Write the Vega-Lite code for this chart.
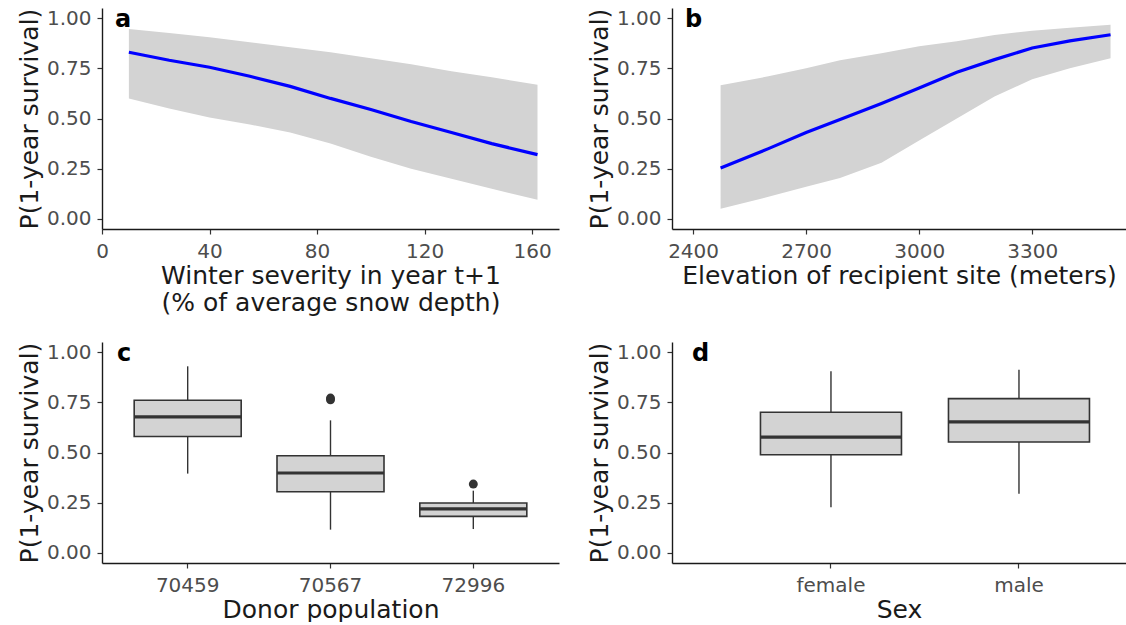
{
  "$schema": "https://vega.github.io/schema/vega-lite/v6.json",
  "padding": {"left": 17, "top": 8, "right": 0, "bottom": 0},
  "background": "white",
  "spacing": 27,
  "config": {
    "font": "DejaVu Sans",
    "view": {"stroke": null},
    "axis": {
      "grid": false,
      "domainColor": "#1a1a1a",
      "domainWidth": 1.4,
      "tickColor": "#333333",
      "tickWidth": 1.2,
      "tickSize": 5,
      "labelColor": "#4D4D4D",
      "labelFont": "DejaVu Sans",
      "labelFontSize": 20,
      "labelFlush": false,
      "labelOverlap": false,
      "titleFont": "DejaVu Sans",
      "titleFontSize": 25,
      "titleFontWeight": "normal",
      "titleColor": "#1a1a1a"
    },
    "axisX": {"labelPadding": 7, "titlePadding": 2},
    "axisY": {"labelPadding": 6, "titlePadding": 4},
    "title": {"fontSize": 24, "fontWeight": "bold", "color": "#000000", "anchor": "start", "frame": "group", "baseline": "alphabetic", "offset": -24}
  },
  "datasets": {
    "a": [
      {"severity": 10, "fit": 0.83, "lo": 0.60, "hi": 0.945},
      {"severity": 25, "fit": 0.79, "lo": 0.55, "hi": 0.925},
      {"severity": 40, "fit": 0.755, "lo": 0.505, "hi": 0.905},
      {"severity": 55, "fit": 0.71, "lo": 0.47, "hi": 0.88},
      {"severity": 70, "fit": 0.66, "lo": 0.43, "hi": 0.855},
      {"severity": 85, "fit": 0.60, "lo": 0.375, "hi": 0.83},
      {"severity": 100, "fit": 0.545, "lo": 0.31, "hi": 0.80},
      {"severity": 115, "fit": 0.485, "lo": 0.25, "hi": 0.77},
      {"severity": 130, "fit": 0.43, "lo": 0.20, "hi": 0.735},
      {"severity": 145, "fit": 0.375, "lo": 0.15, "hi": 0.705},
      {"severity": 162, "fit": 0.32, "lo": 0.095, "hi": 0.668}
    ],
    "b": [
      {"elev": 2473, "fit": 0.254, "lo": 0.051, "hi": 0.665},
      {"elev": 2600, "fit": 0.35, "lo": 0.11, "hi": 0.71},
      {"elev": 2700, "fit": 0.43, "lo": 0.16, "hi": 0.75},
      {"elev": 2790, "fit": 0.495, "lo": 0.204, "hi": 0.79},
      {"elev": 2900, "fit": 0.575, "lo": 0.28, "hi": 0.825},
      {"elev": 3000, "fit": 0.652, "lo": 0.39, "hi": 0.859},
      {"elev": 3100, "fit": 0.73, "lo": 0.50, "hi": 0.885},
      {"elev": 3200, "fit": 0.793, "lo": 0.61, "hi": 0.915},
      {"elev": 3300, "fit": 0.851, "lo": 0.695, "hi": 0.937},
      {"elev": 3400, "fit": 0.886, "lo": 0.75, "hi": 0.952},
      {"elev": 3508, "fit": 0.917, "lo": 0.80, "hi": 0.967}
    ],
    "c": [
      {"pop": "70459", "lower": 0.395, "q1": 0.58, "median": 0.677, "q3": 0.76, "upper": 0.929},
      {"pop": "70567", "lower": 0.116, "q1": 0.305, "median": 0.398, "q3": 0.484, "upper": 0.66},
      {"pop": "72996", "lower": 0.119, "q1": 0.182, "median": 0.219, "q3": 0.249, "upper": 0.31}
    ],
    "cout": [
      {"pop": "70567", "value": 0.771},
      {"pop": "70567", "value": 0.762},
      {"pop": "72996", "value": 0.343}
    ],
    "d": [
      {"sex": "female", "lower": 0.227, "q1": 0.489, "median": 0.577, "q3": 0.70, "upper": 0.904},
      {"sex": "male", "lower": 0.295, "q1": 0.552, "median": 0.652, "q3": 0.768, "upper": 0.912}
    ]
  },
  "vconcat": [
    {
      "hconcat": [
        {
          "width": 457, "height": 221,
          "title": {"text": "a", "dx": 13},
          "layer": [
            {
              "data": {"name": "a"},
              "mark": {"type": "area", "color": "#D3D3D3", "opacity": 1},
              "encoding": {
                "x": {"field": "severity", "type": "quantitative", "scale": {"domain": [0, 170], "nice": false, "zero": false},
                      "axis": {"values": [0, 40, 80, 120, 160], "title": ["Winter severity in year t+1", "(% of average snow depth)"], "titleLineHeight": 27}},
                "y": {"field": "lo", "type": "quantitative", "scale": {"domain": [-0.05, 1.05], "nice": false, "zero": false},
                      "axis": {"values": [0, 0.25, 0.5, 0.75, 1], "format": ".2f", "title": "P(1-year survival)"}},
                "y2": {"field": "hi"}
              }
            },
            {
              "data": {"name": "a"},
              "mark": {"type": "line", "color": "#0000FF", "strokeWidth": 3.2},
              "encoding": {
                "x": {"field": "severity", "type": "quantitative"},
                "y": {"field": "fit", "type": "quantitative"}
              }
            }
          ]
        },
        {
          "width": 454, "height": 221,
          "title": {"text": "b", "dx": 13},
          "layer": [
            {
              "data": {"name": "b"},
              "mark": {"type": "area", "color": "#D3D3D3", "opacity": 1},
              "encoding": {
                "x": {"field": "elev", "type": "quantitative", "scale": {"domain": [2344, 3549], "nice": false, "zero": false},
                      "axis": {"values": [2400, 2700, 3000, 3300], "format": "d", "title": "Elevation of recipient site (meters)"}},
                "y": {"field": "lo", "type": "quantitative", "scale": {"domain": [-0.05, 1.05], "nice": false, "zero": false},
                      "axis": {"values": [0, 0.25, 0.5, 0.75, 1], "format": ".2f", "title": "P(1-year survival)"}},
                "y2": {"field": "hi"}
              }
            },
            {
              "data": {"name": "b"},
              "mark": {"type": "line", "color": "#0000FF", "strokeWidth": 3.2},
              "encoding": {
                "x": {"field": "elev", "type": "quantitative"},
                "y": {"field": "fit", "type": "quantitative"}
              }
            }
          ]
        }
      ],
      "spacing": 113,
      "bounds": "flush"
    },
    {
      "hconcat": [
        {
          "width": 457, "height": 221,
          "title": {"text": "c", "dx": 15},
          "layer": [
            {
              "data": {"name": "c"},
              "mark": {"type": "rule", "color": "#333333", "strokeWidth": 1.4},
              "encoding": {
                "x": {"field": "pop", "type": "nominal", "scale": {"type": "band", "paddingInner": 0, "paddingOuter": 0.1},
                      "axis": {"labelAngle": 0, "title": "Donor population"}},
                "y": {"field": "lower", "type": "quantitative", "scale": {"domain": [-0.05, 1.05], "nice": false, "zero": false},
                      "axis": {"values": [0, 0.25, 0.5, 0.75, 1], "format": ".2f", "title": "P(1-year survival)"}},
                "y2": {"field": "upper"}
              }
            },
            {
              "data": {"name": "c"},
              "mark": {"type": "bar", "size": 107, "fill": "#D3D3D3", "stroke": "#333333", "strokeWidth": 1.6},
              "encoding": {
                "x": {"field": "pop", "type": "nominal"},
                "y": {"field": "q1", "type": "quantitative"},
                "y2": {"field": "q3"}
              }
            },
            {
              "data": {"name": "c"},
              "mark": {"type": "tick", "size": 107, "thickness": 3.2, "color": "#333333", "opacity": 1},
              "encoding": {
                "x": {"field": "pop", "type": "nominal"},
                "y": {"field": "median", "type": "quantitative"}
              }
            },
            {
              "data": {"name": "cout"},
              "mark": {"type": "point", "filled": true, "size": 80, "color": "#333333", "opacity": 1},
              "encoding": {
                "x": {"field": "pop", "type": "nominal"},
                "y": {"field": "value", "type": "quantitative"}
              }
            }
          ]
        },
        {
          "width": 454, "height": 221,
          "title": {"text": "d", "dx": 20},
          "layer": [
            {
              "data": {"name": "d"},
              "mark": {"type": "rule", "color": "#333333", "strokeWidth": 1.4},
              "encoding": {
                "x": {"field": "sex", "type": "nominal", "scale": {"type": "band", "paddingInner": 0, "paddingOuter": 0.2074, "align": 0.833},
                      "axis": {"labelAngle": 0, "title": "Sex"}},
                "y": {"field": "lower", "type": "quantitative", "scale": {"domain": [-0.05, 1.05], "nice": false, "zero": false},
                      "axis": {"values": [0, 0.25, 0.5, 0.75, 1], "format": ".2f", "title": "P(1-year survival)"}},
                "y2": {"field": "upper"}
              }
            },
            {
              "data": {"name": "d"},
              "mark": {"type": "bar", "size": 141, "fill": "#D3D3D3", "stroke": "#333333", "strokeWidth": 1.6},
              "encoding": {
                "x": {"field": "sex", "type": "nominal"},
                "y": {"field": "q1", "type": "quantitative"},
                "y2": {"field": "q3"}
              }
            },
            {
              "data": {"name": "d"},
              "mark": {"type": "tick", "size": 141, "thickness": 3.2, "color": "#333333", "opacity": 1},
              "encoding": {
                "x": {"field": "sex", "type": "nominal"},
                "y": {"field": "median", "type": "quantitative"}
              }
            }
          ]
        }
      ],
      "spacing": 113,
      "bounds": "flush"
    }
  ]
}
